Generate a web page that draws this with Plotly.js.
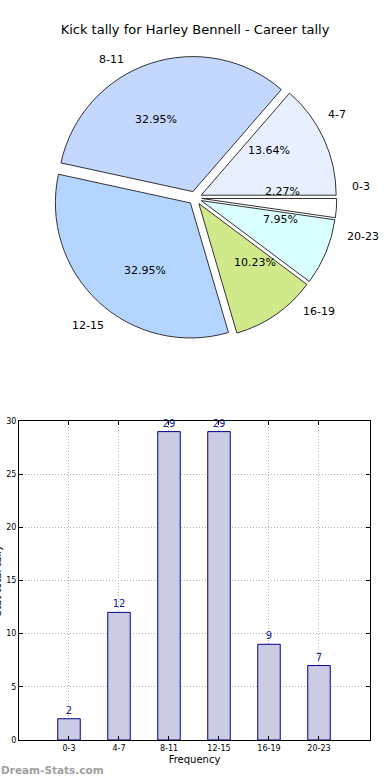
<!DOCTYPE html>
<html>
<head>
<meta charset="utf-8">
<script src="https://cdn.plot.ly/plotly-3.0.1.min.js"></script>
<style>html,body{margin:0;padding:0;background:#fff}#chart{width:390px;height:780px}</style>
</head>
<body>
<div id="chart"></div>
<script>
var categories = ["0-3", "4-7", "8-11", "12-15", "16-19", "20-23"];
var tallies = [2, 12, 29, 29, 9, 7];
var sliceColors = ["#ffffff", "#e8f0ff", "#c3d7ff", "#b3d5ff", "#d0ea8b", "#d9ffff"];
var chartTitle = "Kick tally for Harley Bennell - Career tally";
var xTitle = "Frequency";
var yTitle = "Stat total tally";
var watermark = "Dream-Stats.com";

var font = "DejaVu Sans, sans-serif";
var PULL = 0.05;

var pieTrace = {
  type: "pie",
  values: tallies,
  labels: categories,
  sort: false,
  direction: "counterclockwise",
  rotation: 90,
  pull: PULL,
  marker: {colors: sliceColors, line: {color: "#333333", width: 1}},
  textinfo: "none",
  hoverinfo: "label+value+percent",
  showlegend: false,
  domain: {x: [0.0, 1.0], y: [0.5644, 0.9279]}
};

var barTrace = {
  type: "bar",
  x: categories,
  y: tallies,
  width: 0.45,
  marker: {color: "#cbcbe3", line: {color: "#000088", width: 1}},
  text: tallies.map(String),
  textposition: "outside",
  cliponaxis: false,
  textfont: {family: font, size: 10, color: "#1a1aa0"},
  xaxis: "x",
  yaxis: "y",
  showlegend: false
};

var baseAnnotations = [
  {text: yTitle, xref: "paper", yref: "paper", x: -0.008, y: 0.256, xanchor: "center", yanchor: "middle",
   textangle: -90, showarrow: false, font: {family: font, size: 10, color: "#000"}},
  {text: "<b>" + watermark + "</b>", xref: "paper", yref: "paper", x: -0.003, y: 0.013, xanchor: "left", yanchor: "middle",
   showarrow: false, font: {family: font, size: 10.5, color: "#a0a0a0"}}
];

var layout = {
  width: 390,
  height: 780,
  margin: {l: 0, r: 0, t: 0, b: 0},
  paper_bgcolor: "#ffffff",
  plot_bgcolor: "#ffffff",
  font: {family: font, color: "#000"},
  title: {text: chartTitle, font: {family: font, size: 13, color: "#000"}, x: 0.5, xanchor: "center", y: 0.962, yanchor: "middle"},
  xaxis: {
    domain: [0.0487, 0.9487],
    range: [-1, 6.02],
    type: "category",
    showline: true, linecolor: "#000", linewidth: 1, mirror: "ticks",
    ticks: "inside", ticklen: 4, tickcolor: "#000",
    showgrid: true, gridcolor: "#b4b4b4", griddash: "1px,2px", gridwidth: 1,
    tickfont: {family: font, size: 8, color: "#000"},
    title: {text: xTitle, font: {family: font, size: 10, color: "#000"}, standoff: 4},
    fixedrange: true
  },
  yaxis: {
    domain: [0.05128, 0.4603],
    range: [0, 30],
    dtick: 5,
    showline: true, linecolor: "#000", linewidth: 1, mirror: "ticks",
    ticks: "inside", ticklen: 4, tickcolor: "#000",
    showgrid: true, gridcolor: "#b4b4b4", griddash: "1px,2px", gridwidth: 1,
    zeroline: false,
    tickfont: {family: font, size: 8, color: "#000"},
    fixedrange: true
  },
  annotations: baseAnnotations
};

Plotly.newPlot("chart", [pieTrace, barTrace], layout, {displayModeBar: false, staticPlot: true}).then(function (gd) {
  var cd0 = gd.calcdata[0][0];
  var cx = cd0.cx, cy = cd0.cy, r = cd0.r;
  var W = gd._fullLayout.width, H = gd._fullLayout.height;
  var total = tallies.reduce(function (a, b) { return a + b; }, 0);
  var cum = 0;
  var anns = baseAnnotations.slice();
  tallies.forEach(function (v, i) {
    var mid = (cum + v / 2) / total * 2 * Math.PI;
    cum += v;
    var c = Math.cos(mid), s = Math.sin(mid);
    var ox = cx + PULL * r * c, oy = cy - PULL * r * s;
    var pct = (v / total * 100).toFixed(2) + "%";
    anns.push({text: pct, xref: "paper", yref: "paper",
      x: (ox + 0.6 * r * c) / W, y: 1 - (oy - 0.6 * r * s) / H,
      xanchor: "center", yanchor: "middle", showarrow: false,
      font: {family: font, size: 11, color: "#000"}});
    anns.push({text: categories[i], xref: "paper", yref: "paper",
      x: (ox + 1.1 * r * c) / W, y: 1 - (oy - 1.1 * r * s) / H,
      xanchor: c > 0 ? "left" : "right", yanchor: "middle", showarrow: false,
      font: {family: font, size: 11, color: "#000"}});
  });
  return Plotly.relayout(gd, {annotations: anns});
});
</script>
</body>
</html>
